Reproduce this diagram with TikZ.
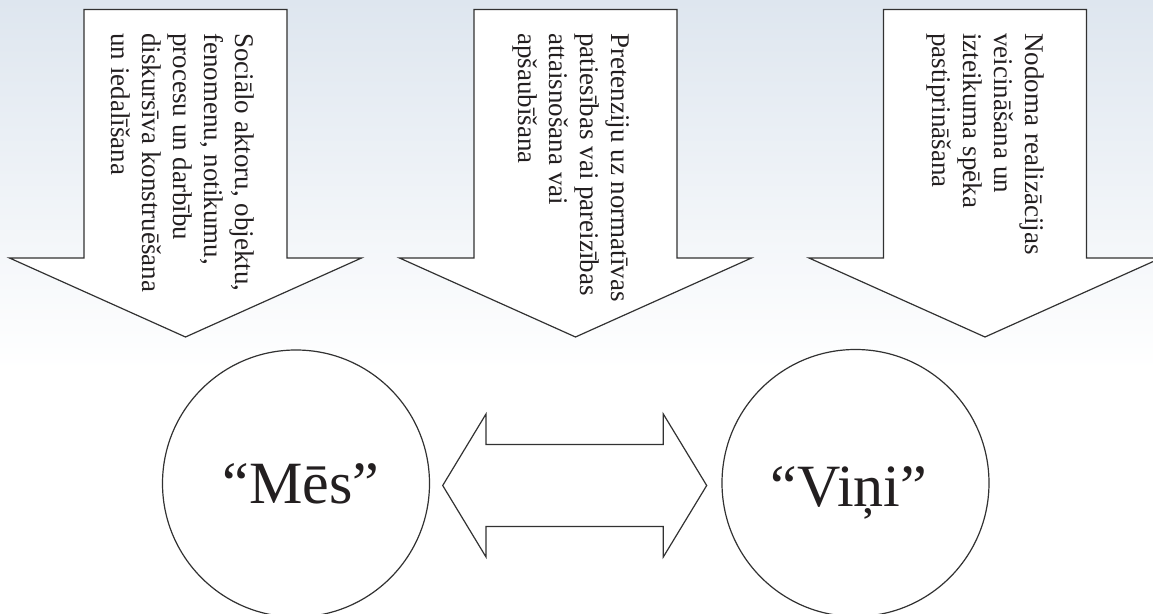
\documentclass[tikz,border=0pt]{standalone}
\usepackage{fontspec}
\setmainfont{Liberation Serif}
\definecolor{bgtop}{RGB}{222,230,239}
\definecolor{inkline}{RGB}{50,50,50}
\definecolor{inktext}{RGB}{35,31,32}
\begin{document}
\begin{tikzpicture}[x=0.5pt,y=-0.5pt,
  outline/.style={draw=inkline, line width=0.6pt, fill=white, line join=miter},
  vtext/.style={rotate=-90, anchor=west, align=left, inner sep=0pt,
    font=\fontsize{13.5pt}{15.5pt}\selectfont, text=inktext},
  ring/.style={outline, circle, minimum size=133.5pt, inner sep=0pt},
  bigtext/.style={font=\fontsize{30pt}{36pt}\selectfont, anchor=base,
    inner sep=0pt, text=inktext},
  pics/downblock/.style={code={
    \draw[outline] (-101.5,9.5) -- (101.5,9.5) -- (101.5,258) -- (176,258)
      -- (0,337) -- (-176,258) -- (-101.5,258) -- cycle;}}]

% page and background wash
\useasboundingbox (0,0) rectangle (1153,614);
\fill[white] (0,0) rectangle (1153,614);
\shade[top color=bgtop, bottom color=white] (0,0) rectangle (1153,370);

% three downward block arrows
\pic (a1) at (185.5,0) {downblock};
\pic (a2) at (575.5,0) {downblock};
\pic (a3) at (985,0) {downblock};

\node[vtext] (t1) at (183,33) {Sociālo aktoru, objektu,\\fenomenu, notikumu,\\procesu un darbību\\diskursīva konstruēšana\\un iedalīšana};
\node[vtext] (t2) at (571,33) {Pretenziju uz normatīvas\\patiesības vai pareizības\\attaisnošana vai\\apšaubīšana};
\node[vtext] (t3) at (985,33) {Nodoma realizācijas\\veicināšana un\\izteikuma spēka\\pastiprināšana};

% the two groups
\node[ring] (mes) at (296,483.5) {};
\node[bigtext] (mesl) at (301,503.5) {“Mēs”};
\node[ring] (vini) at (855.5,483) {};
\node[bigtext] (vinil) at (849,506.5) {“Viņi”};

% double-headed block arrow between the groups
\draw[outline] (442.7,485.5) -- (486,414) -- (486,444.5) -- (663.3,444.5)
  -- (663.3,414) -- (706.7,485.5) -- (663.3,557) -- (663.3,526.5)
  -- (486,526.5) -- (486,557) -- cycle;
\end{tikzpicture}
\end{document}
